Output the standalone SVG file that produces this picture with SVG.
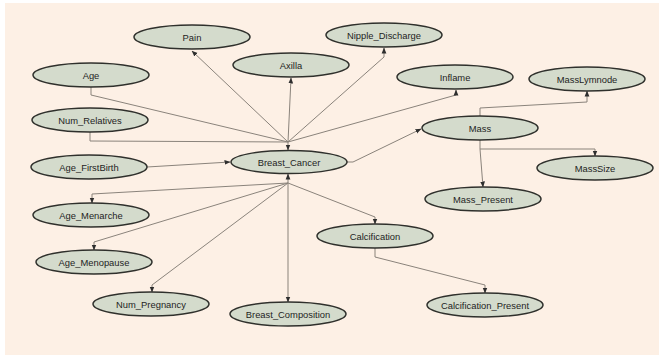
<svg xmlns="http://www.w3.org/2000/svg" width="659" height="355" viewBox="0 0 659 355">
  <style>
    .node ellipse { fill: #d4dbcc; stroke: #2f302c; stroke-width: 1.5; }
    .node text { font-family: "Liberation Sans", Arial, sans-serif; font-size: 9.4px; fill: #1e1e1e; text-anchor: middle; dominant-baseline: central; }
    .edges path { fill: none; stroke: #8a837b; stroke-width: 1; }
    .edges .arr { marker-end: url(#arrow); }
  </style>
  <defs>
    <marker id="arrow" markerUnits="userSpaceOnUse" markerWidth="6" markerHeight="6" viewBox="0 0 6 6" refX="5.5" refY="3" orient="auto">
      <path d="M0,0.6 L6,3 L0,5.4 Z" fill="#2e2e2e"/>
    </marker>
  </defs>

  <!-- canvas -->
  <rect x="0" y="0" width="659" height="355" fill="#ffffff"/>
  <rect x="5" y="3" width="654" height="352" fill="#fdf0e5"/>

  <!-- connectors -->
  <g class="edges">
    <!-- parents of Breast_Cancer, bundled at the top -->
    <path d="M91,87 L91,95 L288,142"/>
    <path d="M90,132 L90,141 L288,142"/>
    <path class="arr" d="M288,142 L288,150"/>
    <path class="arr" d="M147,167 L230,162"/>
    <!-- Breast_Cancer children above -->
    <path class="arr" d="M288,142 L192,51"/>
    <path class="arr" d="M288,142 L291,78"/>
    <path class="arr" d="M288,142 L384,57 L384,48"/>
    <path class="arr" d="M288,142 L456,95 L456,90"/>
    <!-- Breast_Cancer to Mass -->
    <path class="arr" d="M347,162 L353,162 L421,129"/>
    <!-- bundle below Breast_Cancer -->
    <path class="arr" d="M288,183 L288,174"/>
    <path class="arr" d="M288,183 L92,194 L92,203"/>
    <path class="arr" d="M288,183 L94,242 L94,250"/>
    <path class="arr" d="M288,183 L152,285 L152,292"/>
    <path class="arr" d="M288,183 L288,302"/>
    <path class="arr" d="M288,183 L375,217 L375,224"/>
    <!-- Calcification to Calcification_Present -->
    <path class="arr" d="M375,248 L375,257 L485,285 L485,293"/>
    <!-- Mass children -->
    <path class="arr" d="M480,116 L480,108 L587,102 L587,91"/>
    <path class="arr" d="M480,140 L480,149 L595,149 L595,156"/>
    <path class="arr" d="M480,149 L483,187"/>
  </g>

  <!-- nodes -->
  <g id="pain" class="node"><ellipse cx="192" cy="37" rx="58" ry="12"/><text x="192" y="37">Pain</text></g>
  <g id="axilla" class="node"><ellipse cx="291" cy="65" rx="58" ry="12"/><text x="291" y="65">Axilla</text></g>
  <g id="nipple_discharge" class="node"><ellipse cx="384" cy="35" rx="58" ry="12"/><text x="384" y="35">Nipple_Discharge</text></g>
  <g id="age" class="node"><ellipse cx="91" cy="75" rx="58" ry="12"/><text x="91" y="75">Age</text></g>
  <g id="inflame" class="node"><ellipse cx="455" cy="77" rx="58" ry="12"/><text x="455" y="77">Inflame</text></g>
  <g id="masslymnode" class="node"><ellipse cx="587" cy="79" rx="58" ry="12"/><text x="587" y="79">MassLymnode</text></g>
  <g id="num_relatives" class="node"><ellipse cx="90" cy="120" rx="58" ry="12"/><text x="90" y="120">Num_Relatives</text></g>
  <g id="mass" class="node"><ellipse cx="480" cy="128" rx="58" ry="12"/><text x="480" y="128">Mass</text></g>
  <g id="age_firstbirth" class="node"><ellipse cx="89" cy="167" rx="58" ry="12"/><text x="89" y="167">Age_FirstBirth</text></g>
  <g id="breast_cancer" class="node"><ellipse cx="289" cy="162" rx="58" ry="11.5"/><text x="289" y="162">Breast_Cancer</text></g>
  <g id="masssize" class="node"><ellipse cx="595" cy="168" rx="58" ry="12"/><text x="595" y="168">MassSize</text></g>
  <g id="mass_present" class="node"><ellipse cx="483" cy="199" rx="58" ry="12"/><text x="483" y="199">Mass_Present</text></g>
  <g id="age_menarche" class="node"><ellipse cx="91" cy="215" rx="58" ry="12"/><text x="91" y="215">Age_Menarche</text></g>
  <g id="calcification" class="node"><ellipse cx="375" cy="236" rx="58" ry="12"/><text x="375" y="236">Calcification</text></g>
  <g id="age_menopause" class="node"><ellipse cx="94" cy="262" rx="58" ry="12"/><text x="94" y="262">Age_Menopause</text></g>
  <g id="num_pregnancy" class="node"><ellipse cx="151" cy="304" rx="58" ry="12"/><text x="151" y="304">Num_Pregnancy</text></g>
  <g id="breast_composition" class="node"><ellipse cx="288" cy="314" rx="58" ry="12"/><text x="288" y="314">Breast_Composition</text></g>
  <g id="calcification_present" class="node"><ellipse cx="485" cy="305" rx="58" ry="12"/><text x="485" y="305">Calcification_Present</text></g>
</svg>
